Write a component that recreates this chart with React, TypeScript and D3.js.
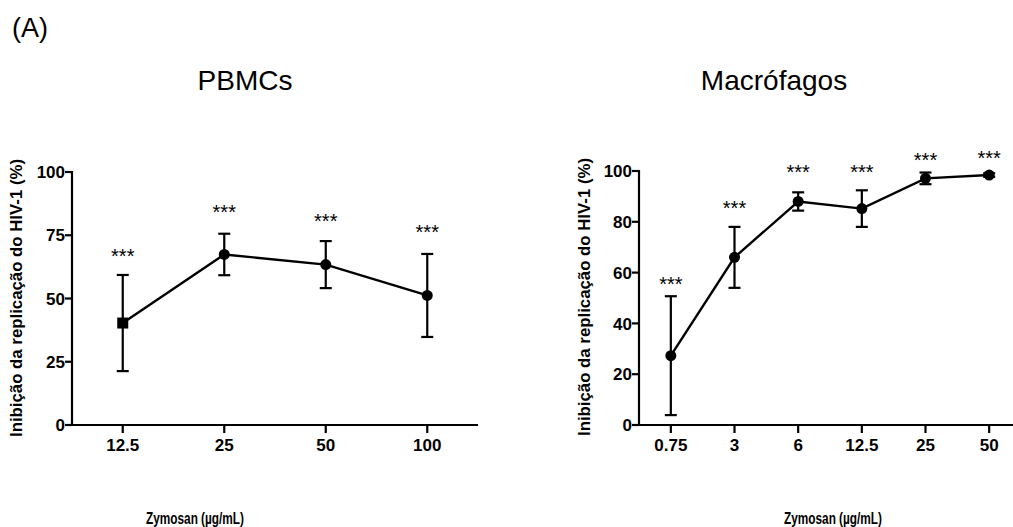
import React from "react";
import * as d3 from "d3";

// ---- Data ----
const pbmcDoses = ["12.5", "25", "50", "100"];
const pbmcMean = [40.3, 67.4, 63.4, 51.2];
const pbmcErr = [19.0, 8.2, 9.3, 16.4];
const pbmcMarker = ["square", "circle", "circle", "circle"];
const pbmcStarY = [68.5, 85.8, 82.3, 77.9];
const pbmcTicks = [0, 25, 50, 75, 100];

const macDoses = ["0.75", "3", "6", "12.5", "25", "50"];
const macMean = [27.3, 66.0, 88.0, 85.2, 97.1, 98.4];
const macErr = [23.4, 12.0, 3.6, 7.2, 2.3, 0.7];
const macMarker = ["circle", "circle", "circle", "circle", "circle", "circle"];
const macStarY = [57.0, 86.9, 101.3, 101.3, 105.8, 106.8];
const macTicks = [0, 20, 40, 60, 80, 100];

const yLabel = "Inibição da replicação do HIV-1 (%)";
const xLabel = "Zymosan (µg/mL)";
const starText = "***";

const FONT = "'Liberation Sans', Arial, Helvetica, sans-serif";

type PanelProps = {
  doses: string[];
  mean: number[];
  err: number[];
  marker: string[];
  starY: number[];
  ticks: number[];
  x0: number;
  x1: number;
  xAxisEnd: number;
  yTop: number;
  yBottom: number;
  title: string;
  titleX: number;
  xLabelX: number;
  yLabelX: number;
  yLabelY: number;
};

function Panel(p: PanelProps) {
  const x = d3.scalePoint<string>().domain(p.doses).range([p.x0, p.x1]).padding(0.5);
  const y = d3.scaleLinear().domain([0, 100]).range([p.yBottom, p.yTop]);
  const line = d3
    .line<number>()
    .x((_, i) => x(p.doses[i]) as number)
    .y((d) => y(d));
  const cap = 6;
  const sw = 2.2;
  return (
    <g>
      <text x={p.titleX} y={90} fontFamily={FONT} fontSize={28} textAnchor="middle">
        {p.title}
      </text>
      {/* axes */}
      <line x1={p.x0} x2={p.x0} y1={y(100) - 1} y2={p.yBottom} stroke="#000" strokeWidth={sw} />
      <line x1={p.x0 - 1} x2={p.xAxisEnd} y1={p.yBottom} y2={p.yBottom} stroke="#000" strokeWidth={sw} />
      {p.ticks.map((t) => (
        <g key={"yt" + t}>
          <line x1={p.x0 - 7} x2={p.x0} y1={y(t)} y2={y(t)} stroke="#000" strokeWidth={sw} />
          <text
            x={p.x0 - 7}
            y={y(t)}
            dy="0.36em"
            textAnchor="end"
            fontFamily={FONT}
            fontWeight="bold"
            fontSize={17}
          >
            {t}
          </text>
        </g>
      ))}
      {p.doses.map((d) => (
        <g key={"xt" + d}>
          <line
            x1={x(d) as number}
            x2={x(d) as number}
            y1={p.yBottom}
            y2={p.yBottom + 8}
            stroke="#000"
            strokeWidth={sw}
          />
          <text
            x={x(d) as number}
            y={p.yBottom + 26}
            textAnchor="middle"
            fontFamily={FONT}
            fontWeight="bold"
            fontSize={17}
          >
            {d}
          </text>
        </g>
      ))}
      <text
        x={p.xLabelX}
        y={524}
        textAnchor="middle"
        fontFamily={FONT}
        fontWeight="bold"
        fontSize={16}
        textLength={98}
        lengthAdjust="spacingAndGlyphs"
      >
        {xLabel}
      </text>
      <text
        transform={`translate(${p.yLabelX},${p.yLabelY}) rotate(-90)`}
        textAnchor="middle"
        fontFamily={FONT}
        fontWeight="bold"
        fontSize={16}
        textLength={278}
        lengthAdjust="spacingAndGlyphs"
      >
        {yLabel}
      </text>
      {/* error bars */}
      {p.doses.map((d, i) => {
        const cx = x(d) as number;
        const hi = y(p.mean[i] + p.err[i]);
        const lo = y(p.mean[i] - p.err[i]);
        return (
          <g key={"eb" + d} stroke="#000" strokeWidth={sw}>
            <line x1={cx} x2={cx} y1={hi} y2={lo} />
            <line x1={cx - cap} x2={cx + cap} y1={hi} y2={hi} />
            <line x1={cx - cap} x2={cx + cap} y1={lo} y2={lo} />
          </g>
        );
      })}
      <path d={line(p.mean) || ""} fill="none" stroke="#000" strokeWidth={2.4} />
      {p.doses.map((d, i) => {
        const cx = x(d) as number;
        const cy = y(p.mean[i]);
        return p.marker[i] === "square" ? (
          <rect key={"m" + d} x={cx - 5.5} y={cy - 5.5} width={11} height={11} fill="#000" />
        ) : (
          <circle key={"m" + d} cx={cx} cy={cy} r={5.5} fill="#000" />
        );
      })}
      {p.doses.map((d, i) => (
        <text
          key={"s" + d}
          x={x(d) as number}
          y={y(p.starY[i]) + 11}
          textAnchor="middle"
          fontFamily={FONT}
          fontSize={20}
        >
          {starText}
        </text>
      ))}
    </g>
  );
}

export default function App() {
  return (
    <svg
      width={1013}
      height={527}
      style={{ position: "absolute", left: 0, top: 0, background: "#fff" }}
    >
      <rect width={1013} height={527} fill="#fff" />
      <text x={12} y={37} fontFamily={FONT} fontSize={27}>
        (A)
      </text>
      <Panel
        doses={pbmcDoses}
        mean={pbmcMean}
        err={pbmcErr}
        marker={pbmcMarker}
        starY={pbmcStarY}
        ticks={pbmcTicks}
        x0={72}
        x1={478}
        xAxisEnd={478}
        yTop={172}
        yBottom={425}
        title="PBMCs"
        titleX={245}
        xLabelX={195}
        yLabelX={22}
        yLabelY={298}
      />
      <Panel
        doses={macDoses}
        mean={macMean}
        err={macErr}
        marker={macMarker}
        starY={macStarY}
        ticks={macTicks}
        x0={639}
        x1={1021}
        xAxisEnd={1013}
        yTop={171}
        yBottom={425}
        title="Macrófagos"
        titleX={774}
        xLabelX={833}
        yLabelX={590}
        yLabelY={297}
      />
    </svg>
  );
}
